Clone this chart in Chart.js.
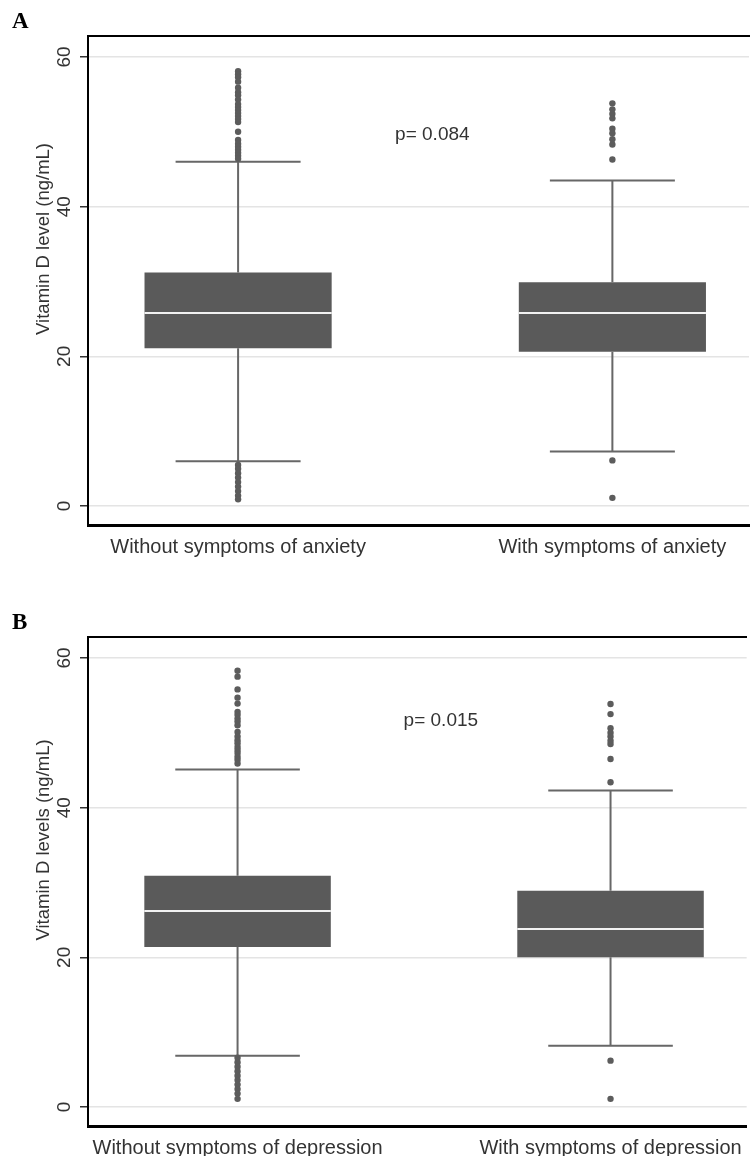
<!DOCTYPE html>
<html lang="en">
<head>
<meta charset="UTF-8">
<title>Vitamin D levels by symptoms of anxiety and depression</title>
<script src="https://cdn.jsdelivr.net/npm/chart.js"></script>
<style>
  html, body { margin: 0; padding: 0; background: #fff; }
  body { width: 753px; height: 1156px; position: relative; overflow: hidden; }
  .panel { position: absolute; left: 0; width: 753px; }
  #panelA { top: 0; height: 590px; }
  #panelB { top: 590px; height: 566px; }
  .panel canvas { display: block; }
  .tag {
    position: absolute; left: 12px; z-index: 2;
    font: bold 23px 'Liberation Serif', 'Times New Roman', serif;
    line-height: 23px; color: #000;
  }
</style>
</head>
<body>
  <div class="panel" id="panelA">
    <div class="tag" style="top:9px">A</div>
    <canvas id="chartA" width="753" height="590"></canvas>
  </div>
  <div class="panel" id="panelB">
    <div class="tag" style="top:20px">B</div>
    <canvas id="chartB" width="753" height="566"></canvas>
  </div>

<script>
// Panel A: anxiety
const groupsA = ['Without symptoms of anxiety', 'With symptoms of anxiety'];
const lowA  = [6.0, 7.3];
const q1A   = [21.1, 20.6];
const medA  = [25.8, 25.8];
const q3A   = [31.2, 29.9];
const highA = [46.0, 43.5];
const outA0 = [58.1, 57.7, 57.3, 56.7, 55.9, 55.3, 54.9, 54.3, 53.7, 53.3, 52.9, 52.5, 52.1, 51.7, 51.3,
               50.0, 48.9, 48.4, 48.0, 47.6, 47.2, 46.8, 46.4,
               5.5, 5.0, 4.4, 3.8, 3.2, 2.6, 2.0, 1.4, 0.9];
const outA1 = [53.8, 53.0, 52.4, 51.8, 50.4, 49.8, 49.0, 48.3, 46.3, 6.1, 1.1];

// Panel B: depression
const groupsB = ['Without symptoms of depression', 'With symptoms of depression'];
const lowB  = [6.85, 8.2];
const q1B   = [21.4, 20.0];
const medB  = [26.2, 23.8];
const q3B   = [30.9, 28.9];
const highB = [45.1, 42.3];
const outB0 = [58.3, 57.5, 55.8, 54.7, 53.9, 52.8, 52.4, 51.9, 51.5, 51.0, 50.1, 49.5, 49.0, 48.6,
               48.1, 47.7, 47.3, 46.8, 46.4, 45.9,
               6.6, 6.0, 5.4, 4.8, 4.2, 3.6, 3.0, 2.4, 1.8, 1.1];
const outB1 = [53.85, 52.5, 50.6, 50.0, 49.5, 48.95, 48.5, 46.5, 43.4, 6.2, 1.1];

const yTicks = [0, 20, 40, 60];
const FONT = "'Liberation Sans', Arial, sans-serif";

const annotate = {
  id: 'annotate',
  afterDraw(chart, args, opts) {
    const {ctx, chartArea, scales: {x, y}} = chart;
    ctx.save();
    ctx.fillStyle = '#333';
    ctx.textAlign = 'center';
    ctx.textBaseline = 'middle';
    ctx.font = '19px ' + FONT;
    ctx.fillText(opts.pText, x.getPixelForValue(opts.pAt[0]), y.getPixelForValue(opts.pAt[1]));
    ctx.translate(44, chartArea.top + chartArea.height * 0.415);
    ctx.rotate(-Math.PI / 2);
    ctx.font = '18.5px ' + FONT;
    ctx.fillText(opts.yTitle, 0, 0);
    ctx.restore();
  }
};

function boxPanel(id, labels, low, q1, med, q3, high, outs, yTitle, pText, pAt, padTop, axisH) {
  const half = 0.25, cap = 0.167;
  const whiskers = [], medians = [], points = [];
  labels.forEach((_, i) => {
    whiskers.push({x: i, y: q3[i]}, {x: i, y: high[i]}, {x: i, y: null},
                  {x: i - cap, y: high[i]}, {x: i + cap, y: high[i]}, {x: i, y: null},
                  {x: i, y: q1[i]}, {x: i, y: low[i]}, {x: i, y: null},
                  {x: i - cap, y: low[i]}, {x: i + cap, y: low[i]}, {x: i, y: null});
    medians.push({x: i - half, y: med[i]}, {x: i + half, y: med[i]}, {x: i, y: null});
    outs[i].forEach(v => points.push({x: i, y: v}));
  });

  new Chart(document.getElementById(id), {
    type: 'bar',
    data: {
      datasets: [
        {
          type: 'bar', order: 3,
          data: labels.map((_, i) => ({x: i, y: [q1[i], q3[i]]})),
          backgroundColor: '#5a5a5a', borderWidth: 0,
          barPercentage: 0.5, categoryPercentage: 1
        },
        {
          type: 'line', order: 2, data: whiskers,
          borderColor: '#676767', borderWidth: 2, pointRadius: 0, spanGaps: false
        },
        {
          type: 'line', order: 1, data: medians,
          borderColor: '#f2f2f2', borderWidth: 2, pointRadius: 0, spanGaps: false
        },
        {
          type: 'scatter', order: 1, data: points,
          pointBackgroundColor: '#5c5c5c', pointBorderWidth: 0, pointRadius: 3.2
        }
      ]
    },
    options: {
      responsive: false,
      animation: false,
      layout: { padding: { top: padTop, left: 0, right: 0, bottom: 0 } },
      plugins: {
        legend: { display: false },
        tooltip: { enabled: false },
        annotate: { yTitle, pText, pAt }
      },
      scales: {
        x: {
          type: 'linear', min: -0.401, max: 1.365, offset: false,
          afterBuildTicks: s => { s.ticks = labels.map((_, i) => ({value: i})); },
          afterFit: s => { s.height = axisH; },
          ticks: { callback: v => labels[v], padding: 10, maxRotation: 0, autoSkip: false,
                   color: '#333', font: { size: 20, family: FONT } },
          grid: { display: false, drawTicks: false, offset: false },
          border: { color: '#000', width: 3 }
        },
        x2: {
          type: 'linear', position: 'top', min: -0.401, max: 1.365, offset: false,
          afterFit: s => { s.height = 0; },
          ticks: { display: false },
          grid: { display: false, drawTicks: false },
          border: { color: '#000', width: 2 }
        },
        y: {
          min: -2.53, max: 62.8,
          afterBuildTicks: s => { s.ticks = yTicks.map(v => ({value: v})); },
          afterFit: s => { s.width = 88; },
          ticks: { minRotation: 90, maxRotation: 90, crossAlign: 'center', padding: 5,
                   color: '#333', font: { size: 19, family: FONT } },
          grid: { color: '#e4e4e4', lineWidth: 1.5, tickColor: '#333', tickLength: 8, tickWidth: 1.5 },
          border: { color: '#000', width: 2 }
        }
      }
    },
    plugins: [annotate]
  });
}

boxPanel('chartA', groupsA, lowA, q1A, medA, q3A, highA, [outA0, outA1],
         'Vitamin D level (ng/mL)', 'p= 0.084', [0.519, 49.6], 36, 65);
boxPanel('chartB', groupsB, lowB, q1B, medB, q3B, highB, [outB0, outB1],
         'Vitamin D levels (ng/mL)', 'p= 0.015', [0.545, 51.6], 47, 30);
</script>
</body>
</html>
